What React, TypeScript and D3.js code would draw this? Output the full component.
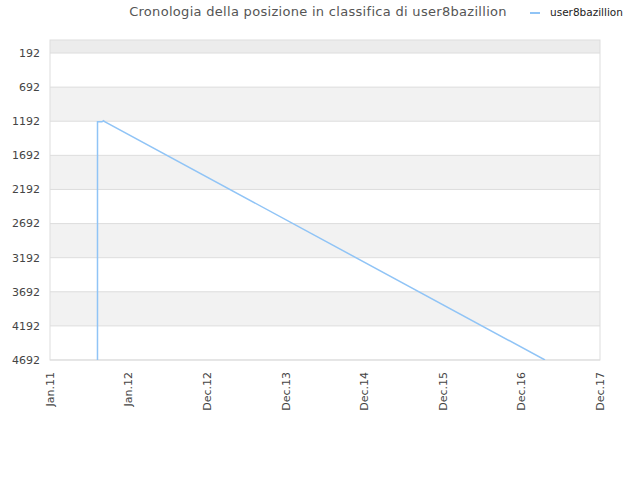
import React from "react";
import * as d3 from "d3";

const xLabels = ["Jan.11", "Jan.12", "Dec.12", "Dec.13", "Dec.14", "Dec.15", "Dec.16", "Dec.17"];
const yTicks = [192, 692, 1192, 1692, 2192, 2692, 3192, 3692, 4192, 4692];
// x position expressed in label-index units, rank values
const seriesX = [0.6045, 0.6046, 0.66, 0.682, 0.69, 6.3];
const seriesY = [4692, 1200, 1200, 1185, 1195, 4692];
const seriesName = "user8bazillion";
const title = "Cronologia della posizione in classifica di user8bazillion";

export default function App() {
  const W = 640, H = 480;
  const left = 50, right = 600, top = 40, bottom = 360;
  const x = d3.scaleLinear().domain([0, xLabels.length - 1]).range([left, right]);
  const y = d3.scaleLinear().domain([1, 4692]).range([top, bottom]);
  const bands: [number, number][] = [];
  const edges = [1, ...yTicks];
  for (let i = 0; i < edges.length - 1; i++) bands.push([edges[i], edges[i + 1]]);
  const pts = seriesX.map((v, i) => [v, seriesY[i]] as [number, number]);
  const line = d3.line<[number, number]>().x(d => x(d[0])).y(d => y(d[1]));
  const font = "DejaVu Sans, sans-serif";
  return (
    <svg width={W} height={H} style={{ position: "absolute", left: 0, top: 0, background: "#fff" }} fontFamily={font}>
      {bands.map((b, i) => (
        <rect key={i} x={left} y={y(b[0])} width={right - left} height={y(b[1]) - y(b[0])}
          fill={i === 0 ? "#ececec" : i % 2 === 0 ? "#f2f2f2" : "#ffffff"} />
      ))}
      {yTicks.map(t => (
        <line key={t} x1={left} x2={right} y1={y(t)} y2={y(t)} stroke="#dddddd" strokeWidth={1} />
      ))}
      <rect x={left} y={top} width={right - left} height={bottom - top} fill="none" stroke="#dddddd" />
      <defs>
        <clipPath id="clip"><rect x={left} y={top} width={right - left} height={bottom - top} /></clipPath>
      </defs>
      <path d={line(pts) || ""} fill="none" stroke="#90c4f6" strokeWidth={1.5} clipPath="url(#clip)" />
      {yTicks.map(t => (
        <text key={t} x={40} y={y(t)} dy="0.35em" textAnchor="end" fontSize={11} fill="#444">{t}</text>
      ))}
      {xLabels.map((l, i) => (
        <text key={l} transform={`translate(${x(i)},${372}) rotate(-90)`} dy="0.35em" textAnchor="end" fontSize={11} fill="#444">{l}</text>
      ))}
      <text x={318} y={16} textAnchor="middle" fontSize={13} letterSpacing={0.3} fill="#555">{title}</text>
      <line x1={530} x2={540} y1={13} y2={13} stroke="#90c4f6" strokeWidth={2} />
      <text x={550} y={16} fontSize={10.5} fill="#222">{seriesName}</text>
    </svg>
  );
}
